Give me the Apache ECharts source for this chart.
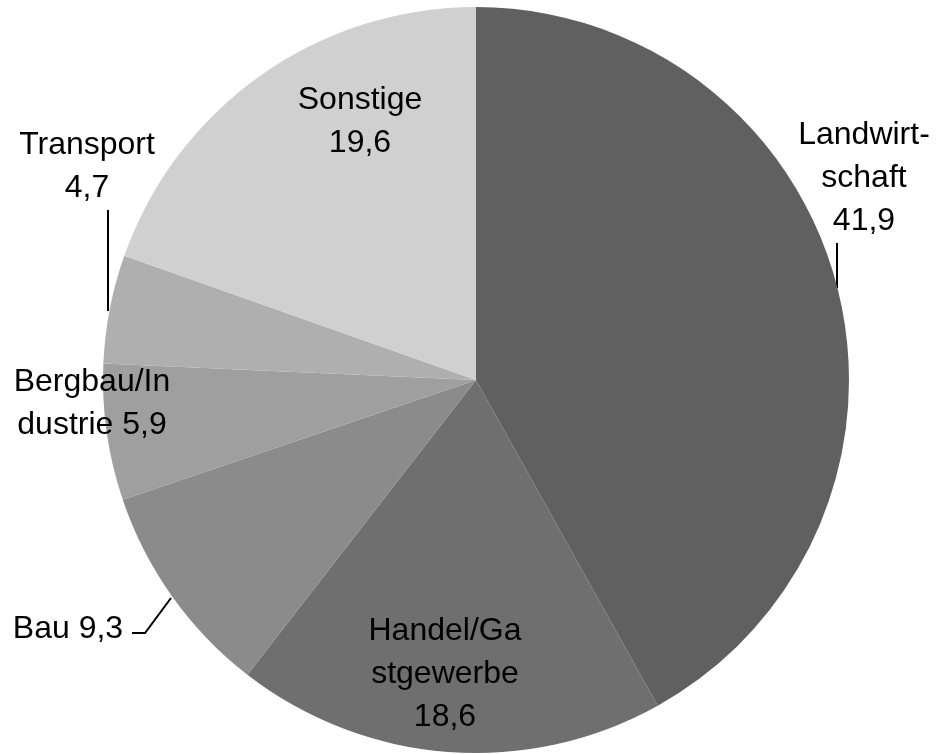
<!DOCTYPE html>
<html>
<head>
<meta charset="utf-8">
<script src="https://cdn.jsdelivr.net/npm/echarts@6/dist/echarts.min.js"></script>
<style>
  html, body { margin: 0; padding: 0; background: #fff; }
  #chart { width: 940px; height: 754px; }
</style>
</head>
<body>
<div id="chart"></div>
<script>
// Beschäftigte nach Sektoren (%)
const categories = ['Landwirtschaft', 'Handel/Gastgewerbe', 'Bau', 'Bergbau/Industrie', 'Transport', 'Sonstige']
const values = [41.9, 18.6, 9.3, 5.9, 4.7, 19.6]
// label text as shown in the picture (wrapped like the original)
const labelNames = ['Landwirt-\nschaft\n', 'Handel/Ga\nstgewerbe\n', 'Bau ', 'Bergbau/In\ndustrie ', 'Transport\n', 'Sonstige\n']
const colors = ['#606060', '#6f6f6f', '#8b8b8b', '#9f9f9f', '#afafaf', '#d0d0d0']

// where the labels sit and how the leader lines run
const labelPos = [
  { x: 864, y: 178, line: [[837, 288], [837, 266], [837, 243]] },
  { x: 445, y: 674 },
  { x: 68, y: 629, line: [[171, 598], [145, 633], [132, 633]] },
  { x: 92, y: 404 },
  { x: 87, y: 167, line: [[108, 311], [108, 260], [108, 210]] },
  { x: 360, y: 122 }
]

const chart = echarts.init(document.getElementById('chart'))
chart.setOption({
  animation: false,
  series: [{
    type: 'pie',
    center: [476, 380],
    radius: 373,
    startAngle: 90,
    clockwise: true,
    itemStyle: { borderWidth: 0 },
    data: categories.map((c, i) => ({
      name: c,
      value: values[i],
      itemStyle: { color: colors[i] },
      labelLine: { show: !!labelPos[i].line }
    })),
    label: {
      show: true,
      position: 'outside',
      overflow: 'none',
      width: 300,
      fontFamily: 'Liberation Sans',
      fontSize: 32,
      lineHeight: 43,
      color: '#000',
      align: 'center',
      formatter: p => labelNames[p.dataIndex] + p.value.toFixed(1).replace('.', ',')
    },
    labelLine: {
      lineStyle: { color: '#000', width: 2 }
    },
    labelLayout: p => {
      const pos = labelPos[p.dataIndex]
      const out = { x: pos.x, y: pos.y, align: 'center', verticalAlign: 'middle' }
      if (pos.line) out.labelLinePoints = pos.line
      return out
    }
  }]
})
</script>
</body>
</html>
